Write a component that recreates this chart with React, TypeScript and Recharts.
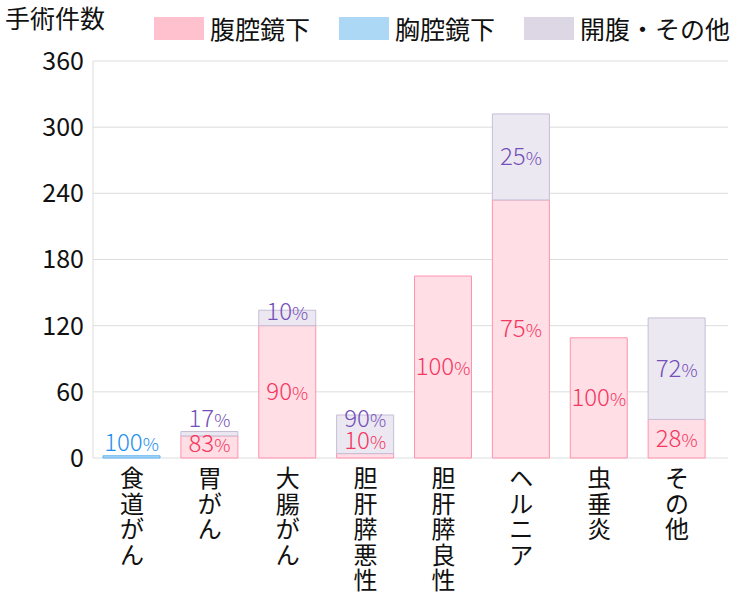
import React from 'react'
import {
    BarChart,
    Bar,
    XAxis,
    YAxis,
    CartesianGrid,
    Legend,
    LabelList,
} from 'recharts'

const categories = ['食道がん', '胃がん', '大腸がん', '胆肝膵悪性', '胆肝膵良性', 'ヘルニア', '虫垂炎', 'その他']
const laparoscopic = [0, 20, 120, 4, 165, 234, 109, 35]
const thoracoscopic = [2, 0, 0, 0, 0, 0, 0, 0]
const openOther = [0, 4, 14, 35, 0, 78, 0, 92]
const yTicks = [0, 60, 120, 180, 240, 300, 360]

const seriesNames = ['腹腔鏡下', '胸腔鏡下', '開腹・その他']

const FONT = '"Noto Sans CJK JP", "Noto Sans", sans-serif'

const STYLE = {
    lap: { fill: '#ffdee5', stroke: '#ff93ae', legend: '#ffc1cd', text: '#f5365f' },
    thor: { fill: '#b6dcf7', stroke: '#5fb1ef', legend: '#acd8f6', text: '#1e90ef' },
    open: { fill: '#ece8f1', stroke: '#c6bdd6', legend: '#dcd6e5', text: '#7550b8' },
}

const data = categories.map((name, i) => ({
    name,
    lap: laparoscopic[i],
    thor: thoracoscopic[i],
    open: openOther[i],
}))

const totals = categories.map((_, i) => laparoscopic[i] + thoracoscopic[i] + openOther[i])

// LabelList skips empty segments, so the category name is passed as the value
const makeLabel = (key: 'lap' | 'thor' | 'open') => (props: any) => {
    const { x, y, width, height, value } = props
    const index = categories.indexOf(value)
    if (index < 0) return null
    const v = data[index][key]
    if (!v) return null
    const pct = Math.round((v / totals[index]) * 100)
    const top = Number(y)
    const h = Number(height)
    let base = top + h / 2 + 8
    if (h < 8) {
        base = top - 5
    } else if (key === 'open' && data[index].lap > 0 && data[index].lap < 8) {
        base = top + 12
    } else if (h < 20) {
        base = top + 10
    } else {
        base = Math.min(base, top + h - 6)
    }
    return (
        <text
            x={Number(x) + Number(width) / 2}
            y={base}
            textAnchor="middle"
            fill={STYLE[key].text}
            fontFamily={FONT}
            fontWeight={300}
        >
            <tspan fontSize={24}>{pct}</tspan>
            <tspan fontSize={18}>%</tspan>
        </text>
    )
}

const VerticalTick = (props: any) => {
    const { x, y, payload } = props
    const chars = String(payload.value).split('')
    return (
        <text x={x} y={y} textAnchor="middle" fill="#111" fontFamily={FONT} fontSize={24}>
            {chars.map((c, i) => (
                <tspan key={i} x={x} y={Number(y) + 21 + i * 25.5}>
                    {c}
                </tspan>
            ))}
        </text>
    )
}

const LegendBox = () => (
    <div style={{ position: 'relative', height: 44, fontFamily: FONT, fontSize: 25, color: '#111', whiteSpace: 'nowrap' }}>
        <div style={{ position: 'absolute', left: 5, top: 2, lineHeight: '30px' }}>手術件数</div>
        <div style={{ position: 'absolute', left: 154, top: 13, display: 'flex', alignItems: 'center' }}>
            {(['lap', 'thor', 'open'] as const).map((k, i) => (
                <div key={k} style={{ display: 'flex', alignItems: 'center', marginRight: 29 }}>
                    <div style={{ width: 50, height: 23, background: STYLE[k].legend, marginRight: 6 }} />
                    <span style={{ lineHeight: '30px' }}>{seriesNames[i]}</span>
                </div>
            ))}
        </div>
    </div>
)

const App = () => {
    return (
        <div style={{ position: 'absolute', left: 0, top: 0, background: '#fff' }}>
            <BarChart
                width={750}
                height={600}
                data={data}
                margin={{ top: 17, right: 22, bottom: 0, left: 0 }}
                barSize={57}
            >
                <Legend verticalAlign="top" content={<LegendBox />} wrapperStyle={{ top: 0, left: 0, width: 750 }} />
                <CartesianGrid vertical={false} stroke="#dddddd" />
                <XAxis
                    dataKey="name"
                    interval={0}
                    height={142}
                    tick={<VerticalTick />}
                    tickLine={false}
                    axisLine={false}
                    padding={{ left: 0, right: 12 }}
                />
                <YAxis
                    width={93}
                    domain={[0, 360]}
                    ticks={yTicks}
                    interval={0}
                    tickLine={false}
                    axisLine={{ stroke: '#dddddd' }}
                    tick={{ fill: '#111', fontSize: 25, fontFamily: FONT }}
                    tickMargin={3}
                />
                <Bar dataKey="lap" stackId="s" fill={STYLE.lap.fill} stroke={STYLE.lap.stroke} isAnimationActive={false}>
                    <LabelList dataKey="name" content={makeLabel('lap')} />
                </Bar>
                <Bar dataKey="thor" stackId="s" fill={STYLE.thor.fill} stroke={STYLE.thor.stroke} isAnimationActive={false}>
                    <LabelList dataKey="name" content={makeLabel('thor')} />
                </Bar>
                <Bar dataKey="open" stackId="s" fill={STYLE.open.fill} stroke={STYLE.open.stroke} isAnimationActive={false}>
                    <LabelList dataKey="name" content={makeLabel('open')} />
                </Bar>
            </BarChart>
        </div>
    )
}

export default App
